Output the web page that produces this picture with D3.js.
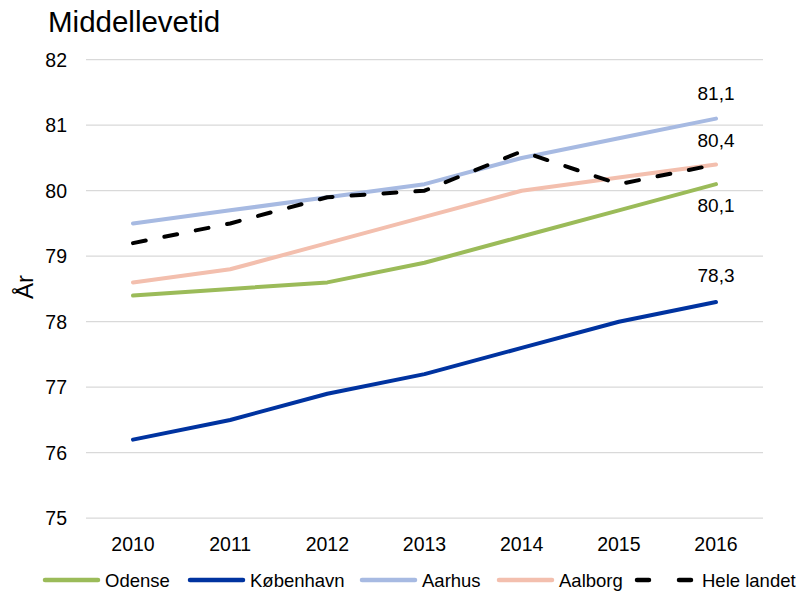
<!DOCTYPE html>
<html>
<head>
<meta charset="utf-8">
<script src="https://cdn.jsdelivr.net/npm/d3@7"></script>
<style>
body { margin: 0; background: #fff; }
text { font-family: "Liberation Sans", Arial, sans-serif; fill: #000; }
</style>
</head>
<body>
<div id="chart"></div>
<script>
var years = [2010, 2011, 2012, 2013, 2014, 2015, 2016];
var yTicks = [75, 76, 77, 78, 79, 80, 81, 82];

var odense = [78.4, 78.5, 78.6, 78.9, 79.3, 79.7, 80.1];
var koebenhavn = [76.2, 76.5, 76.9, 77.2, 77.6, 78.0, 78.3];
var aarhus = [79.5, 79.7, 79.9, 80.1, 80.5, 80.8, 81.1];
var aalborg = [78.6, 78.8, 79.2, 79.6, 80.0, 80.2, 80.4];
var heleLandet = [79.2, 79.5, 79.9, 80.0, 80.6, 80.1, 80.4];

var series = [
    {name: "Odense", values: odense, color: "#9bbb59", dash: null, label: 28},
    {name: "København", values: koebenhavn, color: "#0033a0", dash: null, label: -20},
    {name: "Aarhus", values: aarhus, color: "#a7bae2", dash: null, label: -19},
    {name: "Aalborg", values: aalborg, color: "#f3bfae", dash: null, label: -18},
    {name: "Hele landet", values: heleLandet, color: "#000000", dash: "13,19", label: null}
];

var width = 802, height = 591;
var margin = {top: 60, right: 39, bottom: 73, left: 86};

var svg = d3.select("#chart").append("svg")
    .attr("width", width)
    .attr("height", height);

var x = d3.scalePoint()
    .domain(years)
    .range([133, 716]);

var y = d3.scaleLinear()
    .domain([75, 82])
    .range([518.2, 59.7]);

// gridlines
svg.append("g")
    .selectAll("line")
    .data(yTicks)
    .enter().append("line")
    .attr("x1", margin.left)
    .attr("x2", width - margin.right)
    .attr("y1", d => y(d))
    .attr("y2", d => y(d))
    .attr("stroke", "#d9d9d9")
    .attr("stroke-width", 1.3);

// y tick labels
svg.append("g")
    .selectAll("text")
    .data(yTicks)
    .enter().append("text")
    .attr("x", 67)
    .attr("y", d => y(d))
    .attr("dy", "0.35em")
    .attr("text-anchor", "end")
    .style("font-size", "19.5px")
    .text(d => d);

// x tick labels
svg.append("g")
    .selectAll("text")
    .data(years)
    .enter().append("text")
    .attr("x", d => x(d))
    .attr("y", 551)
    .attr("text-anchor", "middle")
    .style("font-size", "19.5px")
    .text(d => d);

// title
svg.append("text")
    .attr("x", 48)
    .attr("y", 32)
    .style("font-size", "29.5px")
    .text("Middellevetid");

// y axis title
svg.append("text")
    .attr("transform", "translate(33,287) rotate(-90)")
    .attr("text-anchor", "middle")
    .style("font-size", "24px")
    .text("År");

var line = d3.line()
    .x((d, i) => x(years[i]))
    .y(d => y(d));

svg.append("g")
    .selectAll("path")
    .data(series)
    .enter().append("path")
    .attr("d", d => line(d.values))
    .attr("fill", "none")
    .attr("stroke", d => d.color)
    .attr("stroke-width", 4)
    .attr("stroke-linejoin", "round")
    .attr("stroke-linecap", "round")
    .attr("stroke-dasharray", d => d.dash);

// end labels
var last = years.length - 1;
svg.append("g")
    .selectAll("text")
    .data(series.filter(d => d.label))
    .enter().append("text")
    .attr("x", x(years[last]))
    .attr("y", d => y(d.values[last]) + d.label)
    .attr("text-anchor", "middle")
    .style("font-size", "19px")
    .text(d => d3.format(".1f")(d.values[last]).replace(".", ","));

// legend
var legendX = [45, 190, 362, 499, 637];
var legend = svg.append("g")
    .selectAll("g")
    .data(series)
    .enter().append("g")
    .attr("transform", (d, i) => "translate(" + [legendX[i], 580] + ")");

legend.append("line")
    .attr("x1", 0)
    .attr("x2", d => d.dash ? 54 : 53)
    .attr("stroke", d => d.color)
    .attr("stroke-width", 4.5)
    .attr("stroke-linecap", "round")
    .attr("stroke-dasharray", d => d.dash ? "12,30" : null);

legend.append("text")
    .attr("x", d => d.dash ? 65 : 60)
    .attr("y", 6.5)
    .style("font-size", "18.5px")
    .text(d => d.name);
</script>
</body>
</html>
